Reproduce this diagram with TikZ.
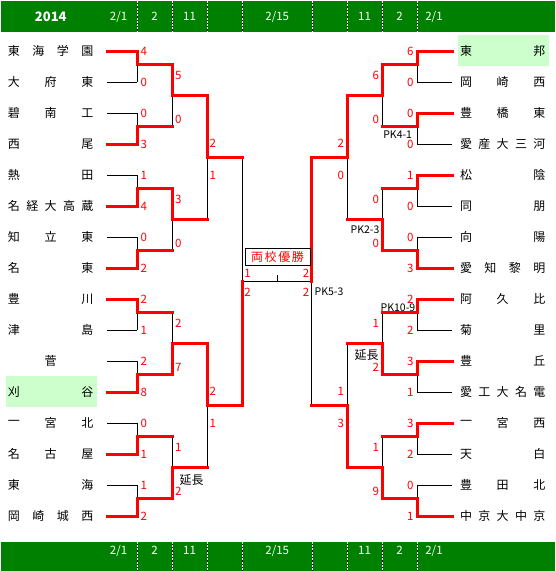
\documentclass[tikz,border=0pt]{standalone}
\usepackage{fontspec}
\setmainfont{Noto Sans CJK JP}
\definecolor{bargreen}{HTML}{008000}
\definecolor{hl}{HTML}{CCFFCC}
\definecolor{scred}{HTML}{FF0000}
\newcommand\tnm[5]{%
  \foreach \c [count=\i] in {#5}{%
    \pgfmathsetmacro\xx{#4==1 ? #2+36.7 : #2+(\i-1)*73.4/max(#4-1,1)}%
    \node[tn] (#1c\i) at (\xx,#3) {\c};}}
\begin{document}
\begin{tikzpicture}[x=1pt,y=-1pt,
  tn/.style={font=\fontsize{12}{12}\selectfont, inner sep=0pt, anchor=center},
  sc/.style={text=scred, font=\fontsize{11.5}{12}\selectfont, inner sep=0pt},
  nt/.style={font=\fontsize{10.5}{11}\selectfont, inner sep=0pt},
  bt/.style={text=white, font=\fontsize{11.5}{12}\selectfont, inner sep=0pt},
  blk/.style={black, line width=1pt},
  rd/.style={scred, line width=3pt, line join=miter, line cap=rect}]
\useasboundingbox (0,0) rectangle (555,571);
% bars
\fill[bargreen] (1,1) rectangle (555,31.5);
\fill[bargreen] (1,541.7) rectangle (555,571);
\foreach \x in {137.3,172,207,242.3,312,347,382,417.3}{
  \draw[black, line width=1pt] (\x,1) -- (\x,31.5) (\x,541.7) -- (\x,571);
  \draw[white, line width=1pt, dash pattern=on 2pt off 1.3pt] (\x,1) -- (\x,31.5) (\x,541.7) -- (\x,571);}
\node[bt, font=\fontsize{13}{13}\selectfont\bfseries] (yr) at (50.8,16.8) {2014};
\foreach \x/\t [count=\i] in {118.6/2\slash 1,154.5/2,189.5/11,277.2/2\slash 15,364.5/11,399.5/2,434/2\slash 1}{
  \node[bt] (tb\i) at (\x,16.5) {\t};
  \node[bt] (bb\i) at (\x,550.7) {\t};}
% highlights
\fill[hl] (6,376) rectangle (96.7,407);
\fill[hl] (457.7,35.4) rectangle (549,65.7);
% team names left
\tnm{lt0}{14}{51}{4}{東,海,学,園}
\tnm{lt1}{14}{82}{3}{大,府,東}
\tnm{lt2}{14}{113}{3}{碧,南,工}
\tnm{lt3}{14}{144}{2}{西,尾}
\tnm{lt4}{14}{175}{2}{熱,田}
\tnm{lt5}{14}{206}{5}{名,経,大,高,蔵}
\tnm{lt6}{14}{237}{3}{知,立,東}
\tnm{lt7}{14}{268}{2}{名,東}
\tnm{lt8}{14}{299}{2}{豊,川}
\tnm{lt9}{14}{330}{2}{津,島}
\tnm{lt10}{14}{361}{1}{菅}
\tnm{lt11}{14}{392}{2}{刈,谷}
\tnm{lt12}{14}{423}{3}{一,宮,北}
\tnm{lt13}{14}{454}{3}{名,古,屋}
\tnm{lt14}{14}{485}{2}{東,海}
\tnm{lt15}{14}{516}{4}{岡,崎,城,西}
% team names right
\tnm{rt0}{466}{51}{2}{東,邦}
\tnm{rt1}{466}{82}{3}{岡,崎,西}
\tnm{rt2}{466}{113}{3}{豊,橋,東}
\tnm{rt3}{466}{144}{5}{愛,産,大,三,河}
\tnm{rt4}{466}{175}{2}{松,陰}
\tnm{rt5}{466}{206}{2}{同,朋}
\tnm{rt6}{466}{237}{2}{向,陽}
\tnm{rt7}{466}{268}{4}{愛,知,黎,明}
\tnm{rt8}{466}{299}{3}{阿,久,比}
\tnm{rt9}{466}{330}{2}{菊,里}
\tnm{rt10}{466}{361}{2}{豊,丘}
\tnm{rt11}{466}{392}{5}{愛,工,大,名,電}
\tnm{rt12}{466}{423}{3}{一,宮,西}
\tnm{rt13}{466}{454}{2}{天,白}
\tnm{rt14}{466}{485}{3}{豊,田,北}
\tnm{rt15}{466}{516}{5}{中,京,大,中,京}
% ---- black lines ----
\foreach \k in {0,...,7}{
  \pgfmathsetmacro\yu{51+62*\k}\pgfmathsetmacro\yl{\yu+31}
  \draw[blk] (107.3,\yu) -- (137.3,\yu) (107.3,\yl) -- (137.3,\yl) (137.3,\yu) -- (137.3,\yl);
  \draw[blk] (452.3,\yu) -- (417,\yu) (452.3,\yl) -- (417,\yl) (417,\yu) -- (417,\yl);}
\foreach \m in {0,...,3}{
  \pgfmathsetmacro\ya{64.5+124*\m}
  \draw[blk] (172,\ya) -- (172,\ya+62) (382,\ya) -- (382,\ya+62);}
\foreach \q in {0,1}{
  \pgfmathsetmacro\ya{95.5+248*\q}
  \draw[blk] (207,\ya) -- (207,\ya+124) (347,\ya) -- (347,\ya+124);}
\draw[blk] (242.3,157.5) -- (242.3,405.5) (311.7,157.5) -- (311.7,405.5);
\draw[blk] (242.3,281.5) -- (311.7,281.5) (277.5,281.5) -- (277.5,275);
% ---- red lines ----
\foreach \k/\w in {0/0,1/1,2/1,3/1,4/0,5/1,6/1,7/1}{
  \pgfmathsetmacro\yu{51+62*\k}\pgfmathsetmacro\yw{\yu+31*\w}\pgfmathsetmacro\yj{\yu+13.5}
  \draw[rd] (107.3,\yw) -- (137.3,\yw) -- (137.3,\yj) -- (172,\yj);}
\foreach \k/\w in {0/0,1/0,2/0,3/1,4/0,5/0,6/0,7/1}{
  \pgfmathsetmacro\yu{51+62*\k}\pgfmathsetmacro\yw{\yu+31*\w}\pgfmathsetmacro\yj{\yu+13.5}
  \draw[rd] (452.3,\yw) -- (417,\yw) -- (417,\yj) -- (382,\yj);}
\foreach \m/\w in {0/0,1/0,2/1,3/1}{
  \pgfmathsetmacro\ya{64.5+124*\m}\pgfmathsetmacro\yw{\ya+62*\w}
  \draw[rd] (172,\yw) -- (172,\ya+31) -- (207,\ya+31);}
\foreach \m/\w in {0/0,1/1,2/1,3/1}{
  \pgfmathsetmacro\ya{64.5+124*\m}\pgfmathsetmacro\yw{\ya+62*\w}
  \draw[rd] (382,\yw) -- (382,\ya+31) -- (347,\ya+31);}
\foreach \q/\w in {0/0,1/0}{
  \pgfmathsetmacro\ya{95.5+248*\q}\pgfmathsetmacro\yw{\ya+124*\w}
  \draw[rd] (207,\yw) -- (207,\ya+62) -- (242.3,\ya+62);}
\foreach \q/\w in {0/0,1/1}{
  \pgfmathsetmacro\ya{95.5+248*\q}\pgfmathsetmacro\yw{\ya+124*\w}
  \draw[rd] (347,\yw) -- (347,\ya+62) -- (311.7,\ya+62);}
\draw[rd] (242.3,405.5) -- (242.3,281.5);
\draw[rd] (311.7,157.5) -- (311.7,281.5);
% final box
\node[draw, line width=1pt, minimum width=65pt, minimum height=16.5pt, inner sep=0pt,
  text=scred, font=\fontsize{12}{12}\selectfont] (yusho) at (277.5,257) {両\kern1.6pt 校\kern1.6pt 優\kern1.6pt 勝};
% scores
\foreach \v [count=\i from 0] in {4,0,0,3,1,4,0,2,2,1,2,8,0,1,1,2}
  \node[sc] (ls1-\i) at (143.8,51.5+31*\i) {\v};
\foreach \v [count=\i from 0] in {6,0,0,0,1,0,0,3,2,2,3,1,3,2,0,1}
  \node[sc] (rs1-\i) at (410.3,51.5+31*\i) {\v};
\foreach \m/\a/\b in {0/5/0,1/3/0,2/2/7,3/1/2}{
  \node[sc] (ls2a\m) at (178.2,75.5+124*\m) {\a};
  \node[sc] (ls2b\m) at (178.2,119.5+124*\m) {\b};}
\foreach \m/\a/\b in {0/6/0,1/0/0,2/1/2,3/1/9}{
  \node[sc] (rs2a\m) at (375.7,75.5+124*\m) {\a};
  \node[sc] (rs2b\m) at (375.7,119.5+124*\m) {\b};}
\foreach \q/\a/\b in {0/2/1,1/2/1}{
  \node[sc] (ls3a\q) at (212.7,143.5+248*\q) {\a};
  \node[sc] (ls3b\q) at (212.7,175+248*\q) {\b};}
\foreach \q/\a/\b in {0/2/0,1/1/3}{
  \node[sc] (rs3a\q) at (340.7,143.5+248*\q) {\a};
  \node[sc] (rs3b\q) at (340.7,175+248*\q) {\b};}
\node[sc] (lsfa) at (247.5,273.8) {1};
\node[sc] (lsfb) at (247.5,292) {2};
\node[sc] (rsfa) at (306,273.8) {2};
\node[sc] (rsfb) at (306,292) {2};
% notes
\node[nt, font=\fontsize{12}{12}\selectfont] (ext1) at (191.7,479.7) {延長};
\node[nt, font=\fontsize{12}{12}\selectfont] (ext2) at (366.7,355.3) {延長};
\node[nt] (pk1) at (397.7,134.5) {PK4-1};
\node[nt] (pk2) at (365,230) {PK2-3};
\node[nt] (pk3) at (398,307.5) {PK10-9};
\node[nt, anchor=west] (pk4) at (314.5,291.7) {PK5-3};
\end{tikzpicture}
\end{document}
